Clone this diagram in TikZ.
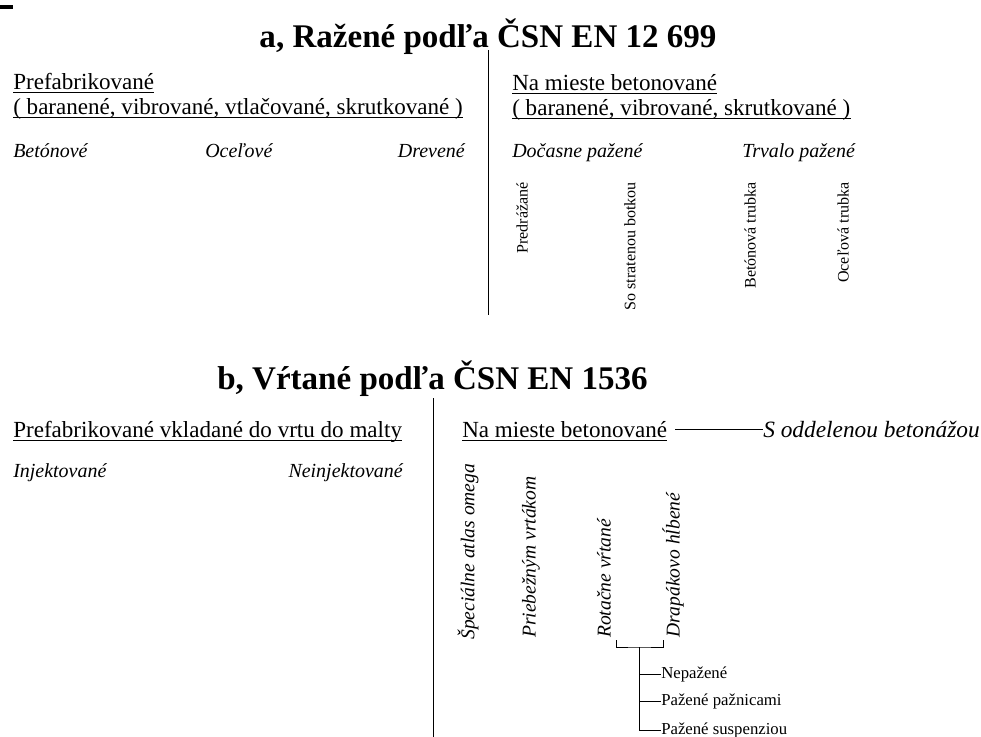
\documentclass[tikz,border=0pt]{standalone}
\usepackage{fontspec}
\setmainfont{Liberation Serif}

\begin{document}
\begin{tikzpicture}[x=0.025cm,y=-0.025cm,
    every node/.style={inner sep=0pt},
    headline/.style={font=\fontsize{23.5}{28}\selectfont\bfseries, anchor=base},
    group/.style={font=\fontsize{16.4}{19}\selectfont, anchor=base west},
    kind/.style={font=\fontsize{14.2}{17}\selectfont\itshape, anchor=base west},
    upright/.style={font=\fontsize{11.4}{13}\selectfont, rotate=90, anchor=east},
    slanted/.style={font=\fontsize{13.9}{16}\selectfont\itshape, rotate=90, anchor=west},
    sub/.style={font=\fontsize{11.9}{14}\selectfont, anchor=west},
    rule/.style={line width=0.7pt}]

    \useasboundingbox (0,0) rectangle (981,737);

    % Draw the small mark in the corner
    \draw[line width=2.2pt] (0,7) -- (13,7);

    % Part a
    \node[headline] (ta) at (488,47) {a, Ražené podľa ČSN EN 12 699};
    \draw[rule] (488,50) -- (488,315);

    \node[group] (pfa) at (13,89) {Prefabrikované};
    \node[group] (pfb) at (13,114) {( baranené, vibrované, vtlačované, skrutkované )};
    \node[kind] (bet) at (13,157) {Betónové};
    \node[kind] (oce) at (205,157) {Oceľové};
    \node[kind, anchor=base east] (dre) at (465,157) {Drevené};

    \node[group] (nma) at (512,90) {Na mieste betonované};
    \node[group] (nmb) at (512,115) {( baranené, vibrované, skrutkované )};
    \node[kind] (doc) at (512,157) {Dočasne pažené};
    \node[kind] (trv) at (742,157) {Trvalo pažené};

    \node[upright] (pre) at (522,182) {Predrážané};
    \node[upright] (str) at (630,182) {So stratenou botkou};
    \node[upright] (btr) at (750,182) {Betónová trubka};
    \node[upright] (otr) at (843,182) {Oceľová trubka};

    % Part b
    \node[headline] (tb) at (432.5,389) {b, Vŕtané podľa ČSN EN 1536};
    \draw[rule] (433,398) -- (433,737);

    \node[group] (pfc) at (13,437) {Prefabrikované vkladané do vrtu do malty};
    \node[kind] (inj) at (13,477) {Injektované};
    \node[kind, anchor=base east] (nei) at (403,477) {Neinjektované};

    \node[group] (nmc) at (462,437) {Na mieste betonované};
    \node[kind, font=\fontsize{16.6}{19}\selectfont\itshape] (odd) at (763,437) {S oddelenou betonážou};
    \draw[rule] ([xshift=5.5pt]nmc.east) -- (nmc.east -| odd.west);

    \node[slanted] (spe) at (468,640) {Špeciálne atlas omega};
    \node[slanted] (pri) at (531,638) {Priebežným vrtákom};
    \node[slanted] (rot) at (604,638) {Rotačne vŕtané};
    \node[slanted] (dra) at (673,638) {Drapákovo hĺbené};

    % underline the group names
    \foreach \n in {pfa,pfb,nma,nmb,pfc,nmc}
        \draw[rule] ([yshift=-2.6pt]\n.base west) -- ([yshift=-2.6pt]\n.base east);

    % Draw the bracket and its branches
    \coordinate (rotend) at (616,640);
    \coordinate (draend) at (663,640);
    \coordinate (fork) at (639,647);
    \draw[rule] (rotend) |- (fork) -| (draend);

    \node[sub] (nep) at (661,674) {Nepažené};
    \node[sub] (paz) at (661,701) {Pažené pažnicami};
    \node[sub] (sus) at (661,730) {Pažené suspenziou};
    \draw[rule] (fork) |- (nep.west);
    \draw[rule] (fork) |- (paz.west);
    \draw[rule] (fork) |- (sus.west);

\end{tikzpicture}
\end{document}
